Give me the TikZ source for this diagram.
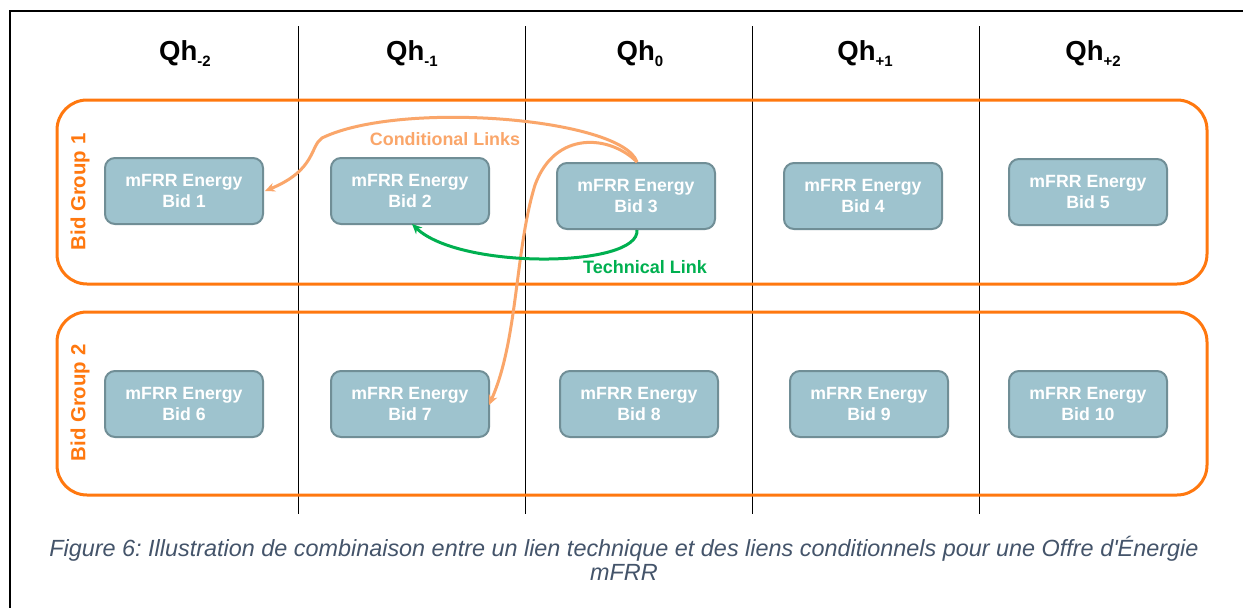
\documentclass[tikz,border=0pt]{standalone}
\usepackage{fontspec}
\setmainfont{Liberation Sans}
\usetikzlibrary{arrows.meta}
\definecolor{grporange}{RGB}{255,120,15}
\definecolor{condorange}{RGB}{250,166,106}
\definecolor{bidfill}{RGB}{158,195,206}
\definecolor{bidborder}{RGB}{112,142,150}
\definecolor{techgreen}{RGB}{0,176,80}
\definecolor{captioncol}{RGB}{68,84,106}
\newcommand{\qhsub}[1]{\raisebox{-6pt}{\fontsize{15}{17}\selectfont #1}}
\frenchspacing
\tikzset{
  bidbox/.style={draw=bidborder, fill=bidfill, line width=2pt, rounded corners=10pt,
    minimum width=158pt, minimum height=66pt, text=white, align=center,
    font=\fontsize{17.7}{21}\selectfont\bfseries, inner sep=0pt},
  grpbox/.style={draw=grporange, line width=3pt, rounded corners=30pt},
  grplabel/.style={text=grporange, rotate=90, font=\fontsize{20.4}{22}\selectfont\bfseries},
  header/.style={font=\fontsize{27.5}{30}\selectfont\bfseries, anchor=base},
  divider/.style={draw=black, line width=0.9pt},
  condlink/.style={draw=condorange, line width=3pt, -{Stealth[length=10pt,width=9pt]}},
  techlink/.style={draw=techgreen, line width=3pt, -{Stealth[length=10pt,width=9pt]}},
}
\begin{document}
\begin{tikzpicture}[x=1pt,y=-1pt]
\useasboundingbox (0,0) rectangle (1243,608);
\fill[white] (0,0) rectangle (1243,608);
% frame
\draw[line width=2pt] (10,608) -- (10,11) -- (1243,11);
% dividers
\foreach \x in {298,525,752,979} \draw[divider] (\x,26) -- (\x,514);
% headers
\node[header] (h1) at (185,60) {Qh\qhsub{-2}};
\node[header] (h2) at (412,60) {Qh\qhsub{-1}};
\node[header] (h3) at (640,60) {Qh\qhsub{0}};
\node[header] (h4) at (865,60) {Qh\qhsub{+1}};
\node[header] (h5) at (1093,60) {Qh\qhsub{+2}};
% groups
\draw[grpbox] (57,100) rectangle (1207,284);
\draw[grpbox] (57,312) rectangle (1207,495);
\node[grplabel] (g1) at (80,192) {Bid Group 1};
\node[grplabel] (g2) at (80,403) {Bid Group 2};
% bids
\node[bidbox] (b1) at (184,191) {mFRR Energy\\Bid 1};
\node[bidbox] (b2) at (410,191) {mFRR Energy\\Bid 2};
\node[bidbox] (b3) at (636,196) {mFRR Energy\\Bid 3};
\node[bidbox] (b4) at (863,196) {mFRR Energy\\Bid 4};
\node[bidbox] (b5) at (1088,192) {mFRR Energy\\Bid 5};
\node[bidbox] (b6) at (184,404) {mFRR Energy\\Bid 6};
\node[bidbox] (b7) at (410,404) {mFRR Energy\\Bid 7};
\node[bidbox] (b8) at (639,404) {mFRR Energy\\Bid 8};
\node[bidbox] (b9) at (869,404) {mFRR Energy\\Bid 9};
\node[bidbox] (b10) at (1088,404) {mFRR Energy\\Bid 10};
% links
\coordinate (c1) at (322,138);
\coordinate (c2) at (535,185);
\draw[condlink] ([xshift=1pt]b3.north) .. controls (622,118) and (400,100) .. (c1)
   .. controls (310,146) and (316,170) .. ([xshift=1pt,yshift=0pt]b1.east);
\draw[condlink] ([xshift=1pt]b3.north) .. controls (610,135) and (555,130) .. (c2)
   .. controls (515,250) and (518,340) .. ([xshift=-1pt,yshift=-1pt]b7.east);
\draw[techlink] ([xshift=1pt]b3.south) .. controls (640,268) and (460,270) .. ([xshift=2pt,yshift=1pt]b2.south);
\node[text=condorange, font=\fontsize{17.9}{20}\selectfont\bfseries] (cl) at (445,139) {Conditional Links};
\node[text=techgreen, font=\fontsize{18}{20}\selectfont\bfseries] (tl) at (645,267) {Technical Link};
% caption
\node[text=captioncol, align=center, font=\fontsize{23.4}{24}\selectfont\itshape] (cap) at (624,558)
  {Figure 6: Illustration de combinaison entre un lien technique et des liens conditionnels pour une Offre d\textquotesingle Énergie\\mFRR};
\end{tikzpicture}
\end{document}
